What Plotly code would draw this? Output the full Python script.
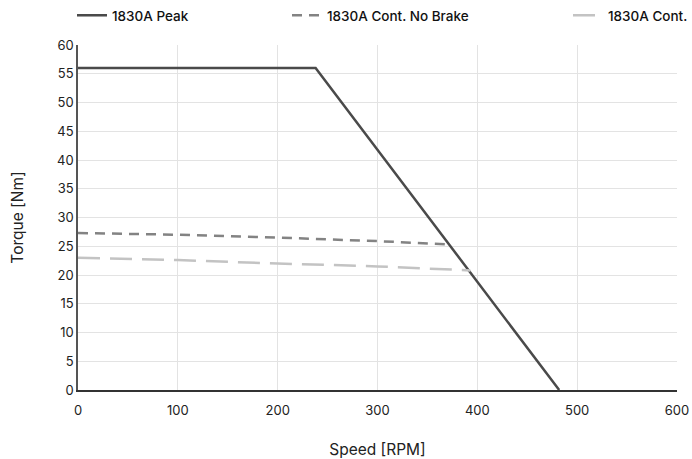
import plotly.graph_objects as go

# Data
peak_rpm = [0, 238, 482]
peak_torque = [56, 56, 0]
nobrake_rpm = [0, 100, 200, 300, 373]
nobrake_torque = [27.3, 27.0, 26.5, 25.9, 25.3]
cont_rpm = [0, 100, 200, 300, 393]
cont_torque = [23.0, 22.6, 22.0, 21.5, 20.8]

FONT = "Inter, Roboto, sans-serif"

fig = go.Figure()
fig.add_trace(go.Scatter(x=peak_rpm, y=peak_torque, mode="lines", name="1830A Peak",
                         line=dict(color="#4a4a4a", width=2.5), legend="legend", showlegend=True))
fig.add_trace(go.Scatter(x=nobrake_rpm, y=nobrake_torque, mode="lines", name="1830A Cont. No Brake",
                         line=dict(color="#838383", width=2.5, dash="10px,7px"), legend="legend2",
                         showlegend=True))
fig.add_trace(go.Scatter(x=cont_rpm, y=cont_torque, mode="lines", name="1830A Cont.",
                         line=dict(color="#c3c3c3", width=2.5, dash="22px,10px"), legend="legend3",
                         showlegend=True))

leg_common = dict(orientation="h", yref="container", xref="container", y=1.0, yanchor="top",
                  font=dict(family=FONT, size=13.5, color="#111111", weight=500),
                  bgcolor="rgba(0,0,0,0)", itemwidth=30)

fig.update_layout(
    width=692, height=459,
    margin=dict(l=78, r=15, t=45, b=69, autoexpand=False),
    showlegend=True,
    paper_bgcolor="white", plot_bgcolor="white",
    font=dict(family=FONT, size=13, color="#222222"),
    legend=dict(leg_common, x=72/692, xanchor="left"),
    legend2=dict(leg_common, x=287/692, xanchor="left"),
    legend3=dict(leg_common, x=568/692, xanchor="left"),
    xaxis=dict(range=[0, 600], dtick=100, showgrid=True, gridcolor="#e3e3e3", gridwidth=1,
               showline=True, linecolor="#333333", linewidth=1.5, zeroline=False,
               ticks="", ticklabelstandoff=8, automargin=False,
               tickfont=dict(size=13, color="#222222"),
               title=dict(text="Speed [RPM]", font=dict(size=15.5, color="#222222"), standoff=30)),
    yaxis=dict(range=[0, 60], dtick=5, showgrid=True, gridcolor="#e3e3e3", gridwidth=1,
               showline=True, linecolor="#555555", linewidth=1.5, zeroline=False,
               ticks="", automargin=False,
               tickfont=dict(size=13, color="#222222"),
               title=dict(text="Torque [Nm]", font=dict(size=15.5, color="#222222"), standoff=30)),
)

fig.write_html("out.html")
